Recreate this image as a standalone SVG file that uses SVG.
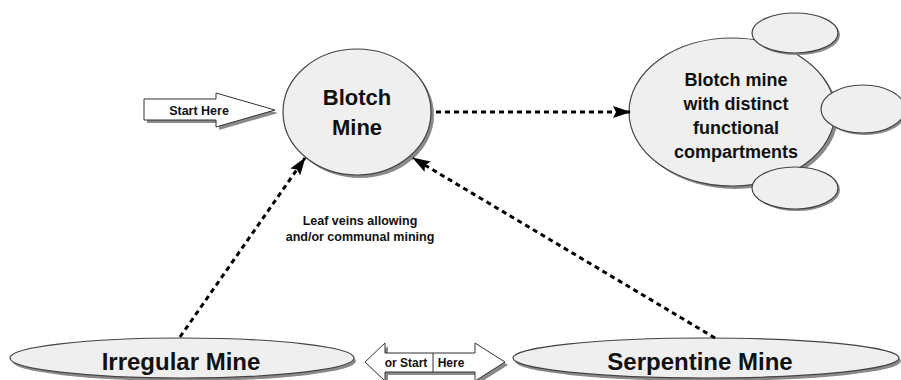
<svg xmlns="http://www.w3.org/2000/svg" width="901" height="380" viewBox="0 0 901 380">
<defs>
<marker id="ah" viewBox="0 0 18 12" refX="17" refY="6" markerWidth="18" markerHeight="12" markerUnits="userSpaceOnUse" orient="auto">
<path d="M0,0 L18,6 L0,12 L3,6 Z" fill="#000"/>
</marker>
<style>
.node{fill:#efefef;stroke:#444;stroke-width:1.2}
.sh{fill:#8a8a8a}
.t{font-family:"Liberation Sans",Arial,sans-serif;font-weight:bold;fill:#111;text-anchor:middle}
.con{fill:none;stroke:#000;stroke-width:3;stroke-dasharray:5 4}
.arr{fill:#fff;stroke:#333;stroke-width:1}
</style>
</defs>
<rect width="901" height="380" fill="#fff"/>
<g id="start-here">
<polygon class="sh" points="147,102 219,102 219,96 278,113 219,130 219,123 147,123"/>
<polygon class="arr" points="144,99 216,99 216,93 275,110 216,127 216,120 144,120"/>
<text class="t" x="199" y="115" font-size="12.5">Start Here</text>
</g>
<g id="blotch-mine">
<ellipse class="sh" cx="360" cy="115" rx="74" ry="63"/>
<ellipse class="node" cx="357" cy="112" rx="74" ry="63"/>
<text class="t" x="357" y="105" font-size="22">Blotch</text>
<text class="t" x="357" y="135" font-size="22">Mine</text>
</g>
<g id="compartments">
<ellipse class="sh" cx="735" cy="115" rx="103" ry="74"/>
<ellipse class="node" cx="732" cy="112" rx="103" ry="74"/>
<ellipse class="sh" cx="797" cy="35" rx="43" ry="20"/>
<ellipse class="node" cx="795" cy="33" rx="43" ry="20"/>
<ellipse class="sh" cx="865" cy="111" rx="42" ry="24"/>
<ellipse class="node" cx="863" cy="109" rx="42" ry="24"/>
<ellipse class="sh" cx="797" cy="190" rx="43" ry="21"/>
<ellipse class="node" cx="795" cy="188" rx="43" ry="21"/>
<text class="t" x="736" y="86" font-size="18">Blotch mine</text>
<text class="t" x="736" y="110" font-size="18">with distinct</text>
<text class="t" x="736" y="134" font-size="18">functional</text>
<text class="t" x="736" y="158" font-size="18">compartments</text>
</g>
<g id="irregular-mine">
<ellipse class="sh" cx="184" cy="361" rx="172" ry="20"/>
<ellipse class="node" cx="182" cy="358" rx="172" ry="20"/>
<text class="t" x="181" y="370" font-size="24">Irregular Mine</text>
</g>
<g id="serpentine-mine">
<ellipse class="sh" cx="708" cy="361" rx="193" ry="20"/>
<ellipse class="node" cx="706" cy="358" rx="193" ry="20"/>
<text class="t" x="700" y="370" font-size="24">Serpentine Mine</text>
</g>
<g id="or-start-here">
<polygon class="sh" points="368,365 388,346 388,356 478,356 478,346 508,365 478,384 478,375 388,375 388,384"/>
<polygon class="arr" points="365,362 385,343 385,353 475,353 475,343 505,362 475,381 475,372 385,372 385,381"/>
<line x1="433" y1="353" x2="433" y2="372" stroke="#333" stroke-width="1"/>
<text class="t" x="406" y="367" font-size="12">or Start</text>
<text class="t" x="451" y="367" font-size="12">Here</text>
</g>
<g id="label">
<text class="t" x="360" y="225" font-size="12.5">Leaf veins allowing</text>
<text class="t" x="360" y="241" font-size="12.5">and/or communal mining</text>
</g>
<g id="connectors">
<line class="con" x1="436" y1="112" x2="630" y2="112" marker-end="url(#ah)"/>
<line class="con" x1="180" y1="337" x2="305" y2="158" marker-end="url(#ah)"/>
<line class="con" x1="715" y1="338" x2="413" y2="158" marker-end="url(#ah)"/>
</g>
</svg>
